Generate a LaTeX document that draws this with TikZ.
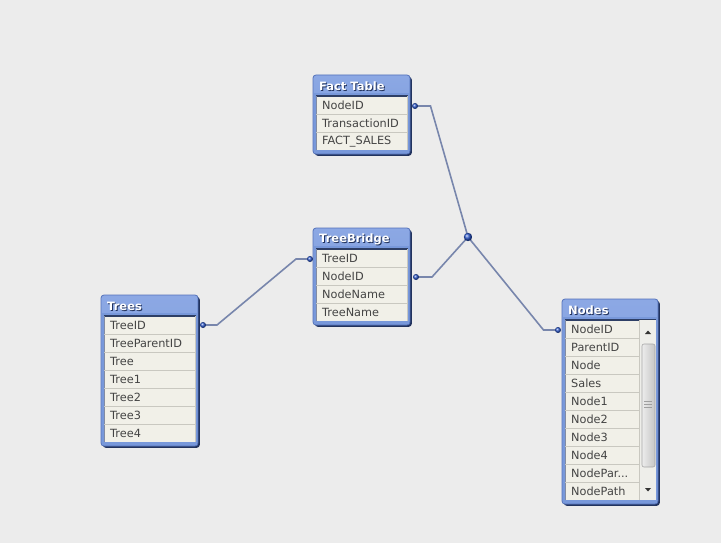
\documentclass[tikz,border=0pt]{standalone}
\usepackage{fontspec}
\setmainfont{DejaVu Sans}
\usetikzlibrary{calc}
\definecolor{bgc}{HTML}{ECECEC}
\definecolor{titlec}{HTML}{7898DA}
\definecolor{titletop}{HTML}{8CA8E4}
\definecolor{framec}{HTML}{5472BA}
\definecolor{shadowc}{HTML}{22335E}
\definecolor{rowc}{HTML}{F1F0E8}
\definecolor{scrollc}{HTML}{EEEEEA}
\definecolor{sepc}{HTML}{C9C8C0}
\definecolor{sepdark}{HTML}{2E3F66}
\definecolor{rowtextc}{HTML}{444444}
\definecolor{connc}{HTML}{7886AC}
\definecolor{dotc}{HTML}{2A55C8}
\newcommand{\tdots}{...}
\tikzset{
  titletext/.style={anchor=west, inner sep=0pt, text=white, font=\fontsize{11.5}{13}\selectfont\bfseries},
  titleshadow/.style={anchor=west, inner sep=0pt, text=shadowc, font=\fontsize{11.5}{13}\selectfont\bfseries},
  rowtext/.style={anchor=west, inner sep=0pt, text=rowtextc, font=\fontsize{11.3}{13}\selectfont},
  conn/.style={draw=connc, line width=1.6pt},
  sepline/.style={draw=sepc, line width=0.8pt},
}
% #1 name, #2 position, #3 width, #4 title, #5 nrows, #6 rows, #7 separator right end
\newcommand{\qvtab}[7]{%
\begin{scope}[shift={#2}]
 \pgfmathsetmacro\hh{21+18*#5+4}
 \pgfmathsetmacro\rb{21+18*#5}
 \fill[shadowc, rounded corners=3pt] (1.8,1.8) rectangle (#3+1.8,\hh+1.8);
 \draw[framec, line width=0.8pt, top color=titletop, bottom color=titlec, rounded corners=3pt] (0,0) rectangle (#3,\hh);
 \fill[titlec] (1,18) rectangle (#3-1,\hh-1);
 \fill[rowc] (3,21) rectangle (#3-2.5,\rb);
 \draw[sepdark, line width=1.2pt] (3,21) -- (#3-2.5,21);
 \draw[sepdark!60, line width=0.6pt] (3,21) -- (3,\rb);
 \draw[sepc, line width=0.6pt] (#3-2.5,21) -- (#3-2.5,\rb);
 \node[titleshadow] (#1-sh) at (7,12.5) {#4};
 \node[titletext] (#1) at (6,11.5) {#4};
 \foreach \r [count=\i] in {#6} {
   \node[rowtext] (#1-\i) at (9,21+18*\i-8.7) {\r};
   \ifnum\i<#5 \draw[sepline] (3,21+18*\i) -- (#7,21+18*\i);\fi
 }
\end{scope}}
\begin{document}
\begin{tikzpicture}[x=1pt, y=-1pt]
\fill[bgc] (0,0) rectangle (721,543);
\useasboundingbox (0,0) rectangle (721,543);

\qvtab{fact}{(313,75)}{97}{Fact Table}{3}{NodeID,TransactionID,FACT\_SALES}{94.5}
\qvtab{bridge}{(313,228)}{97}{TreeBridge}{4}{TreeID,NodeID,NodeName,TreeName}{94.5}
\qvtab{trees}{(101,295)}{97}{Trees}{7}{TreeID,TreeParentID,Tree,Tree1,Tree2,Tree3,Tree4}{94.5}
\qvtab{nodes}{(562,299)}{96}{Nodes}{10}{NodeID,ParentID,Node,Sales,Node1,Node2,Node3,Node4,{NodePar\tdots},NodePath}{77}

% scrollbar of Nodes
\fill[scrollc] (639.5,320) rectangle (655.5,500);
\draw[sepc, line width=0.6pt] (639.5,320) -- (639.5,500);
\draw[gray!70, line width=0.6pt, rounded corners=2pt, left color=white!85!gray, right color=gray!45] (642,344) rectangle (655,467);
\draw[gray!75, line width=0.7pt] (644,401) -- (652,401) (644,404) -- (652,404) (644,407) -- (652,407);
\fill[black!80] (645,334) -- (651,334) -- (648,330.5) -- cycle;
\fill[black!80] (645,488) -- (651,488) -- (648,491.5) -- cycle;

% connector points
\coordinate (fdot) at (415,106);
\coordinate (bdotR) at (416,277);
\coordinate (bdotL) at (310,259);
\coordinate (tdot) at (203,325);
\coordinate (ndot) at (558,330);
\coordinate (junc) at (468,237);

\draw[conn] (fdot) -- ++(15.5,0) -- (junc);
\draw[conn] (bdotR) -- ++(16,0) -- (junc);
\draw[conn] (junc) -- (543.5,330) -- (ndot);
\draw[conn] (tdot) -- ++(14,0) -- (296,259) -- (bdotL);

\foreach \p in {fdot,bdotR,bdotL,tdot,ndot} \shade[ball color=dotc] (\p) circle (3);
\shade[ball color=dotc] (junc) circle (4.2);
\end{tikzpicture}
\end{document}
